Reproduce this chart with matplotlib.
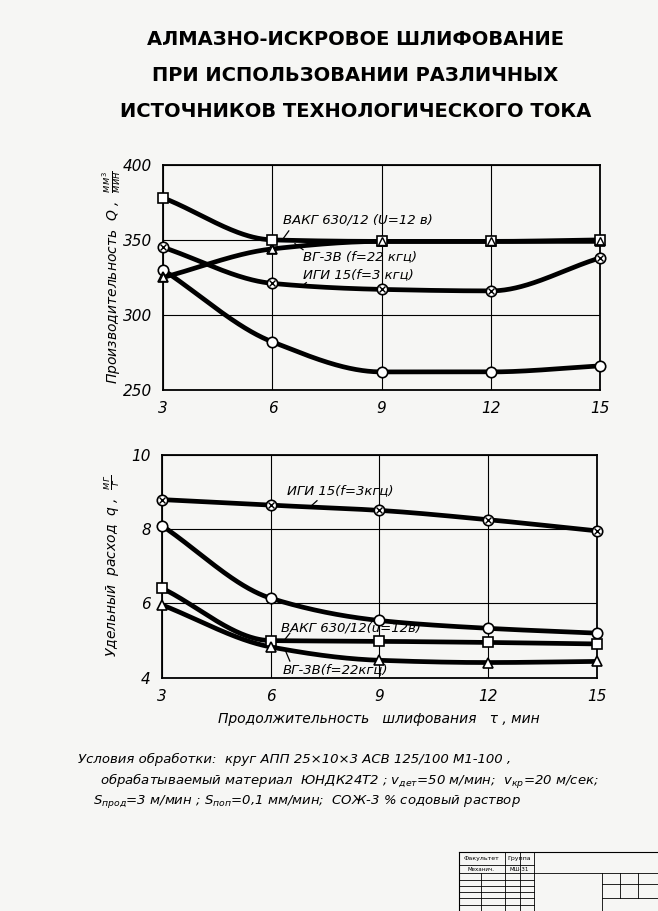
import numpy as np
import matplotlib
matplotlib.use("Agg")
import matplotlib.pyplot as plt
from matplotlib import font_manager

plt.rcParams['font.family'] = ['DejaVu Sans']
plt.rcParams['mathtext.fontset'] = 'dejavusans'

# продолжительность шлифования, мин
tau = [3, 6, 9, 12, 15]

# производительность Q, мм3/мин
Q_vakg = [378, 350, 349, 349, 350]
Q_vg3v = [325, 344, 349, 349, 349]
Q_igi = [345, 321, 317, 316, 338]
Q_other = [330, 282, 262, 262, 266]

# удельный расход q, мг/г
q_igi = [8.79, 8.64, 8.50, 8.25, 7.95]
q_other = [8.09, 6.14, 5.54, 5.33, 5.20]
q_vakg = [6.41, 5.00, 4.98, 4.95, 4.91]
q_vg3v = [5.96, 4.83, 4.47, 4.41, 4.44]

x_ticks = [3, 6, 9, 12, 15]
Q_ticks = [250, 300, 350, 400]
q_ticks = [4, 6, 8, 10]

title = ("АЛМАЗНО-ИСКРОВОЕ ШЛИФОВАНИЕ\n"
         "ПРИ ИСПОЛЬЗОВАНИИ РАЗЛИЧНЫХ\n"
         "ИСТОЧНИКОВ ТЕХНОЛОГИЧЕСКОГО ТОКА")


def smooth(x, y, n=120):
    # плавная кривая (монотонный кубический сплайн) только для отрисовки линии
    x = np.asarray(x, float)
    y = np.asarray(y, float)
    h = np.diff(x)
    d = np.diff(y) / h
    m = np.zeros_like(y)
    m[0], m[-1] = d[0], d[-1]
    for k in range(1, len(x) - 1):
        if d[k - 1] * d[k] > 0:
            w1 = 2 * h[k] + h[k - 1]
            w2 = h[k] + 2 * h[k - 1]
            m[k] = (w1 + w2) / (w1 / d[k - 1] + w2 / d[k])
    xs, ys = [], []
    for k in range(len(x) - 1):
        t = np.linspace(0, 1, n)
        h00 = 2 * t**3 - 3 * t**2 + 1
        h10 = t**3 - 2 * t**2 + t
        h01 = -2 * t**3 + 3 * t**2
        h11 = t**3 - t**2
        xs.append(x[k] + t * h[k])
        ys.append(h00 * y[k] + h10 * h[k] * m[k] + h01 * y[k + 1] + h11 * h[k] * m[k + 1])
    return np.concatenate(xs), np.concatenate(ys)


def draw(ax, y, marker):
    xs, ys = smooth(tau, y)
    ax.plot(xs, ys, color='black', lw=3.4, solid_capstyle='round', zorder=3)
    ms = 7.5 if marker != '^' else 7
    ax.plot(tau, y, ls='none', marker=marker, ms=ms, mfc='white', mec='black', mew=1.2,
            zorder=5, clip_on=False)


def crossed(ax, y):
    ax.plot(tau, y, ls='none', marker='x', ms=4.5, mec='black', mew=1.0, zorder=6, clip_on=False)


# узкий шрифт для заголовка, если есть
try:
    font_manager.findfont(font_manager.FontProperties(family='Liberation Sans Narrow', weight='bold'),
                          fallback_to_default=False)
    title_font = dict(family=['Liberation Sans Narrow', 'DejaVu Sans'], fontsize=17.5)
except Exception:
    title_font = dict(family=['DejaVu Sans'], fontsize=14)

fig = plt.figure(figsize=(6.58, 9.11), dpi=100)
fig.patch.set_facecolor('#f6f6f4')

fig.text(0.54, 0.917, title, ha='center', va='center', fontweight='bold',
         linespacing=2.15, **title_font)

ital = dict(fontstyle='italic')

# --- верхний график ---
ax1 = fig.add_axes([0.248, 0.572, 0.664, 0.247])
for yv, mk in [(Q_other, 'o'), (Q_igi, 'o'), (Q_vg3v, '^'), (Q_vakg, 's')]:
    draw(ax1, yv, mk)
ax1.plot(tau, Q_vg3v, ls='none', marker='^', ms=6, mfc='none', mec='black', mew=1.0,
         zorder=6, clip_on=False)
crossed(ax1, Q_igi)
ax1.set_xlim(3, 15)
ax1.set_ylim(250, 400)
ax1.set_xticks(x_ticks)
ax1.set_yticks(Q_ticks)
ax1.set_ylabel('Производительность  Q ,  $\\frac{мм^3}{мин}$', fontsize=10, **ital, labelpad=0)

ax1.text(6.3, 363, 'ВАКГ 630/12 (U=12 в)', fontsize=9.5, va='center', **ital, zorder=7)
ax1.plot([6.45, 6.3], [356, 351], color='black', lw=0.9)
ax1.text(6.84, 339, 'ВГ-3В (f=22 кгц)', fontsize=9.5, va='center', **ital, zorder=7)
ax1.plot([6.84, 6.62], [343.5, 347.5], color='black', lw=0.9)
ax1.text(6.84, 327, 'ИГИ 15(f=3 кгц)', fontsize=9.5, va='center', **ital, zorder=7)
ax1.plot([6.93, 6.78], [321.5, 318.5], color='black', lw=0.9)

# --- нижний график ---
ax2 = fig.add_axes([0.246, 0.256, 0.661, 0.245])
for yv, mk in [(q_igi, 'o'), (q_other, 'o'), (q_vakg, 's'), (q_vg3v, '^')]:
    draw(ax2, yv, mk)
crossed(ax2, q_igi)
ax2.set_xlim(3, 15)
ax2.set_ylim(4, 10)
ax2.set_xticks(x_ticks)
ax2.set_yticks(q_ticks)
ax2.set_ylabel('Удельный  расход  q ,  $\\frac{мг}{г}$', fontsize=10, **ital, labelpad=6)
ax2.set_xlabel('Продолжительность   шлифования   τ , мин', fontsize=10, **ital, labelpad=6)

ax2.text(6.45, 9.02, 'ИГИ 15(f=3кгц)', fontsize=9.5, va='center', **ital, zorder=7)
ax2.plot([7.28, 7.12], [8.76, 8.62], color='black', lw=0.9)
ax2.text(6.3, 5.35, 'ВАКГ 630/12(u=12в)', fontsize=9.5, va='center', **ital, zorder=7)
ax2.plot([6.53, 6.37], [5.2, 5.0], color='black', lw=0.9)
ax2.text(6.34, 4.22, 'ВГ-3В(f=22кгц)', fontsize=9.5, va='center', **ital, zorder=7)
ax2.plot([6.53, 6.4], [4.45, 4.75], color='black', lw=0.9)

for ax in (ax1, ax2):
    ax.set_facecolor('none')
    ax.grid(True, color='black', lw=0.8)
    ax.tick_params(length=0, pad=8, labelsize=11)
    for lab in ax.get_xticklabels() + ax.get_yticklabels():
        lab.set_fontstyle('italic')
    for s in ax.spines.values():
        s.set_linewidth(1.3)
    ax.set_axisbelow(True)

# --- условия обработки ---
cond = [
    (0.118, 0.166, 'Условия обработки:  круг АПП 25×10×3 АСВ 125/100 М1-100 ,'),
    (0.152, 0.142, 'обрабатываемый материал  ЮНДК24Т2 ; $v_{дет}$=50 м/мин;  $v_{кр}$=20 м/сек;'),
    (0.141, 0.120, '$S_{прод}$=3 м/мин ; $S_{поп}$=0,1 мм/мин;  СОЖ-3 % содовый раствор'),
]
for x, y, s in cond:
    fig.text(x, y, s, fontsize=9.5, **ital, va='center')

# --- штамп ---
stamp = fig.add_axes([0.695, 0.0, 0.305, 0.069])
stamp.set_xlim(0, 100)
stamp.set_ylim(0, 30)
stamp.axis('off')
lw = 0.8
stamp.plot([1, 100], [28, 28], color='black', lw=lw)
stamp.plot([1, 1], [0, 28], color='black', lw=lw)
for yy in [22, 18, 15, 12, 9, 6, 3]:
    stamp.plot([1, 38], [yy, yy], color='black', lw=0.6)
for xx in [24, 31, 38]:
    stamp.plot([xx, xx], [0, 28], color='black', lw=0.6)
stamp.plot([12, 12], [0, 18], color='black', lw=0.6)
stamp.plot([38, 100], [18, 18], color='black', lw=0.6)
stamp.plot([72, 72], [0, 18], color='black', lw=0.6)
stamp.plot([72, 100], [13, 13], color='black', lw=0.6)
stamp.plot([72, 100], [6, 6], color='black', lw=0.6)
stamp.plot([81, 81], [6, 18], color='black', lw=0.6)
stamp.plot([90, 90], [6, 18], color='black', lw=0.6)
stamp.text(12, 25, 'Факультет', fontsize=4.5, ha='center', va='center')
stamp.text(31, 25, 'Группа', fontsize=4.5, ha='center', va='center')
stamp.text(12, 20, 'Механич.', fontsize=4, ha='center', va='center')
stamp.text(31, 20, 'МШ-31', fontsize=4, ha='center', va='center')

fig.savefig('out.png', dpi=100, facecolor=fig.get_facecolor())
